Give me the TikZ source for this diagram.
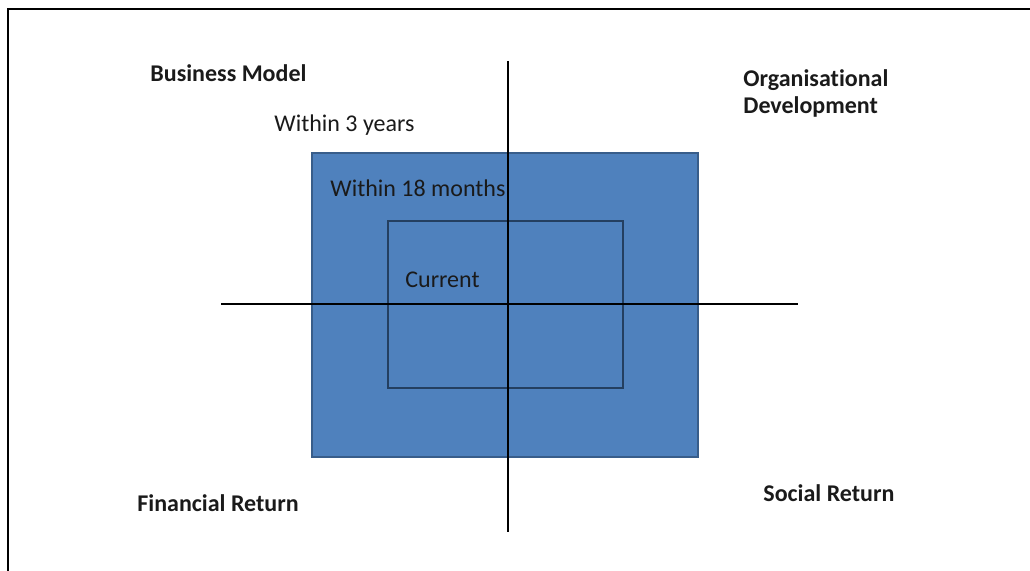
\documentclass[tikz,border=0pt]{standalone}
\usepackage{fontspec}
\setmainfont{Carlito}[Ligatures=NoCommon]
\usepackage{tikz}
\usetikzlibrary{positioning}

\definecolor{boxblue}{HTML}{4F81BD}
\definecolor{boxedge}{HTML}{385D8A}
\definecolor{inneredge}{HTML}{243F60}
\definecolor{ink}{HTML}{1A1A1A}

\tikzset{
  horizon/.style={draw=boxedge,fill=boxblue,line width=1pt,inner sep=0pt},
  axis/.style={line width=1pt,black},
  heading/.style={font=\bfseries\fontsize{12}{13.5}\selectfont,text=ink,inner sep=0pt,anchor=west},
  label/.style={font=\fontsize{12}{13.5}\selectfont,text=ink,inner sep=0pt,anchor=west}
}

\begin{document}
\begin{tikzpicture}[x=0.5pt,y=-0.5pt]
    \useasboundingbox (0,0) rectangle (1030,571);

    % frame round the figure
    \coordinate (frameTL) at (8,9);
    \coordinate (frameTR) at (1032,9);
    \coordinate (frameBL) at (8,573);
    \draw[line width=1pt] (frameTR) -- (frameTL) -- (frameBL);

    % the two time horizons
    \node[horizon,minimum width=193pt,minimum height=152pt] (threeyears) at (505,305) {};
    \node[horizon,draw=inneredge,line width=0.75pt,minimum width=117.5pt,minimum height=83.5pt] (eighteen) at (505.5,304.5) {};

    % axes
    \coordinate (west) at (221,304);
    \coordinate (east) at (798,304);
    \coordinate (north) at (508,61);
    \coordinate (south) at (508,532);
    \draw[axis] (west) -- (east);
    \draw[axis] (north) -- (south);

    % quadrant headings
    \node[heading] (business) at (150,73) {Business Model};
    \node[heading,align=left,anchor=north west] (organisation) at (743,69) {Organisational\\Development};
    \node[heading] (financial) at (137,503) {Financial Return};
    \node[heading] (social) at (763,493) {Social Return};

    % horizon labels
    \node[label] (lblthree) at (274,125) {Within 3 years};
    \node[label] (lbleighteen) at (330,188) {Within 18 months};
    \node[label] (lblcurrent) at (405,280) {Current};
\end{tikzpicture}
\end{document}
